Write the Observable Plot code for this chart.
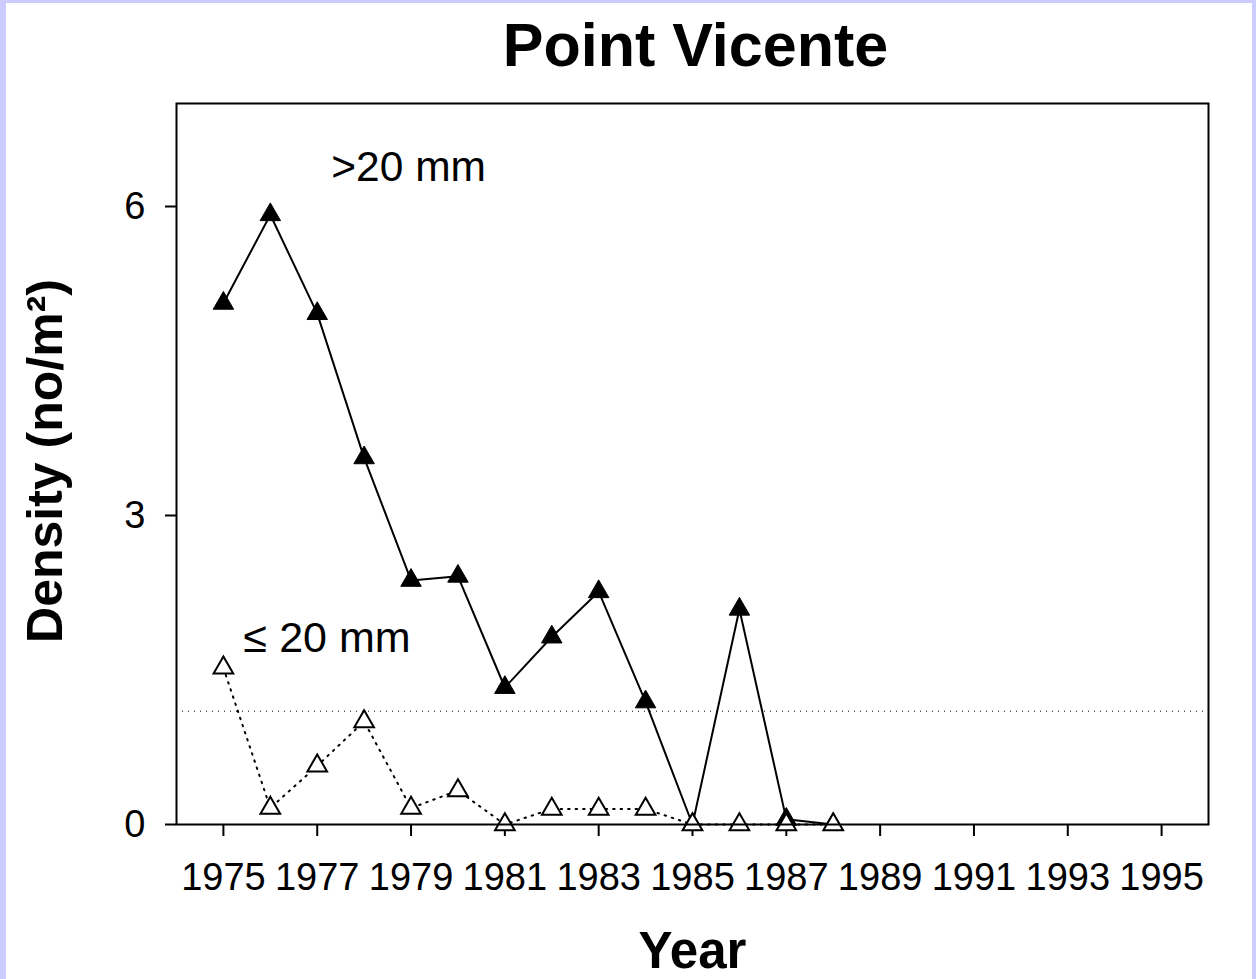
<!DOCTYPE html>
<html>
<head>
<meta charset="utf-8">
<script src="https://cdn.jsdelivr.net/npm/d3@7"></script>
<script src="https://cdn.jsdelivr.net/npm/@observablehq/plot@0.6"></script>
<style>
  body { margin: 0; background: #fff; }
  #wrap { position: relative; width: 1256px; height: 979px; background: #fff; overflow: hidden; }
  #wrap svg { position: absolute; left: 0; top: 0; }
  #border { position: absolute; left: 0; top: 0; width: 1256px; height: 979px; box-sizing: border-box;
    border-left: 6px solid #ccccff; border-top: 3px solid #ccccff; border-right: 4px solid #ccccff; pointer-events: none; }
</style>
</head>
<body>
<div id="wrap"><div id="border"></div></div>
<script>
// ---- data ----
const years = [1975, 1976, 1977, 1978, 1979, 1980, 1981, 1982, 1983, 1984, 1985, 1986, 1987, 1988];
const largeDensity = [5.06, 5.92, 4.96, 3.56, 2.37, 2.41, 1.33, 1.82, 2.26, 1.19, 0, 2.09, 0.05, 0];   // >20 mm
const smallDensity = [1.52, 0.16, 0.57, 1.00, 0.16, 0.33, 0, 0.15, 0.15, 0.15, 0, 0, 0, 0];           // <=20 mm
const xTicks = [1975, 1977, 1979, 1981, 1983, 1985, 1987, 1989, 1991, 1993, 1995];
const yTicks = [0, 3, 6];
const referenceLevel = 1.1;
const titleText = "Point Vicente";
const xLabel = "Year";
const yLabel = "Density (no/m\u00B2)";
const largeLabel = ">20 mm";
const smallLabel = "\u2264 20 mm";

const large = years.map((year, i) => ({year, density: largeDensity[i]}));
const small = years.map((year, i) => ({year, density: smallDensity[i]}));

const font = "Arial, 'Liberation Sans', sans-serif";

const chart = Plot.plot({
  width: 1256,
  height: 979,
  marginLeft: 176,
  marginRight: 48,
  marginTop: 103,
  marginBottom: 155,
  style: {fontFamily: font, background: "transparent", color: "black", overflow: "visible"},
  x: {domain: [1974, 1996]},
  y: {domain: [0, 7]},
  marks: [
    Plot.ruleY([referenceLevel], {stroke: "black", strokeWidth: 1, strokeDasharray: "1,5"}),
    Plot.axisX({ticks: xTicks, tickSize: 12, tickPadding: 27, fontSize: 38, strokeWidth: 2,
      tickFormat: d => String(d), label: null}),
    Plot.axisY({ticks: yTicks, tickSize: 11, tickPadding: 20, fontSize: 38, strokeWidth: 2,
      tickFormat: d => String(d), label: null}),
    Plot.line(large, {x: "year", y: "density", stroke: "black", strokeWidth: 2}),
    Plot.dot(large, {x: "year", y: "density", symbol: "triangle", r: 7.6, fill: "black", stroke: "black", strokeWidth: 1}),
    Plot.line(small, {x: "year", y: "density", stroke: "black", strokeWidth: 2, strokeDasharray: "1.5,6"}),
    Plot.dot(small, {x: "year", y: "density", symbol: "triangle", r: 7.3, fill: "white", stroke: "black", strokeWidth: 2}),
    Plot.frame({stroke: "black", strokeWidth: 2}),
    Plot.text([titleText], {frameAnchor: "top", lineAnchor: "bottom", dy: -38, dx: 3, fontSize: 61, fontWeight: "bold", fill: "black"}),
    Plot.text([xLabel], {frameAnchor: "bottom", lineAnchor: "bottom", dy: 143, fontSize: 51, fontWeight: "bold", fill: "black"}),
    Plot.text([yLabel], {frameAnchor: "left", textAnchor: "middle", rotate: -90, dx: -131, dy: -3, fontSize: 50, fontWeight: "bold", fill: "black"}),
    Plot.text([{x: 1977.3, y: 6.245, label: largeLabel}], {x: "x", y: "y", text: "label", textAnchor: "start", lineAnchor: "bottom", fontSize: 42.5, fill: "black"}),
    Plot.text([{x: 1975.43, y: 1.67, label: smallLabel}], {x: "x", y: "y", text: "label", textAnchor: "start", lineAnchor: "bottom", fontSize: 43, fill: "black"})
  ]
});
document.getElementById("wrap").insertBefore(chart, document.getElementById("border"));
</script>
</body>
</html>
